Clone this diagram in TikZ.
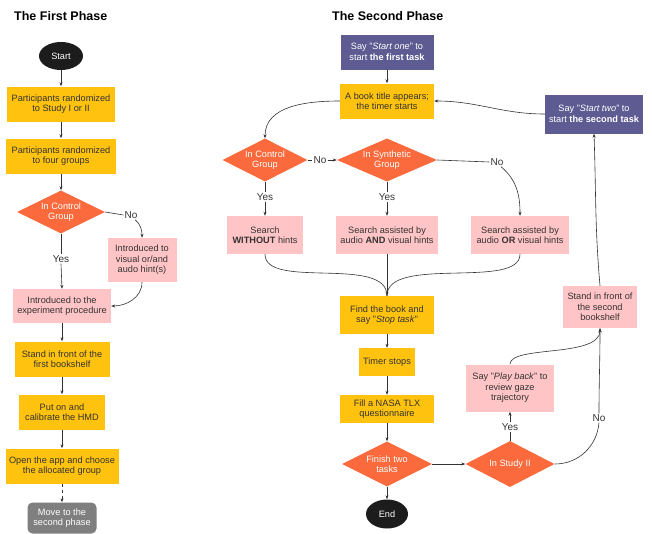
\documentclass[tikz,border=0pt]{standalone}
\usepackage{fontspec}
\setmainfont{Liberation Sans}
\usetikzlibrary{shapes.geometric,arrows.meta}
\definecolor{cyel}{HTML}{FFC20E}
\definecolor{cora}{HTML}{FA6A3C}
\definecolor{cpink}{HTML}{FFC4C6}
\definecolor{cpur}{HTML}{5E5B93}
\definecolor{cgrey}{HTML}{7F7F7F}
\definecolor{cblk}{HTML}{1C1C1C}
\definecolor{ctxt}{HTML}{333333}
\definecolor{cline}{HTML}{333333}
\begin{document}
\begin{tikzpicture}[x=1pt,y=-1pt,
  base/.style={inner sep=0pt, align=center, font=\fontsize{9.2}{10.5}\selectfont},
  ybox/.style={base, rectangle, fill=cyel, text=ctxt},
  pbox/.style={base, rectangle, fill=cpink, text=ctxt},
  ubox/.style={base, rectangle, fill=cpur, text=white},
  gbox/.style={base, rectangle, rounded corners=5pt, fill=cgrey, text=white},
  dia/.style={base, diamond, aspect=2, fill=cora, text=white},
  term/.style={base, ellipse, fill=cblk, text=white},
  lab/.style={inner sep=1pt, font=\fontsize{10}{12}\selectfont, text=ctxt},
  ttl/.style={anchor=west, inner sep=0pt, font=\fontsize{12.5}{14}\selectfont\bfseries, text=black},
  ln/.style={draw=cline, line width=0.6pt},
  arr/.style={ln, -{Stealth[length=4pt,width=3pt]}}
]
\useasboundingbox (0,0) rectangle (652,533);

% titles
\node[ttl] (t1) at (14,16) {The First Phase};
\node[ttl] (t2) at (332,16) {The Second Phase};

% ---------- first phase ----------
\node[term, minimum width=44, minimum height=28] (start) at (61,56) {Start};
\node[ybox, minimum width=108, minimum height=35] (r1) at (61,104) {Participants randomized\\to Study I or II};
\node[ybox, minimum width=110, minimum height=35] (r2) at (61,156) {Participants randomized\\to four groups};
\node[dia, minimum width=88, minimum height=43] (cg1) at (61,212) {In Control\\Group};
\node[lab] (no1) at (131,215) {No};
\node[pbox, minimum width=69, minimum height=44] (hint) at (142,260) {Introduced to\\visual or/and\\audo hint(s)};
\node[lab] (yes1) at (61,259) {Yes};
\node[pbox, minimum width=98, minimum height=34] (exp) at (62,306) {Introduced to the\\experiment procedure};
\node[ybox, minimum width=95, minimum height=35] (st1) at (62,359) {Stand in front of the\\first bookshelf};
\node[ybox, minimum width=86, minimum height=35] (hmd) at (62,412) {Put on and\\calibrate the HMD};
\node[ybox, minimum width=113, minimum height=35] (app) at (62,466) {Open the app and choose\\the allocated group};
\node[gbox, minimum width=69, minimum height=31] (move) at (62,518) {Move to the\\second phase};

\draw[arr] (start) -- (r1);
\draw[arr] (r1) -- (r2);
\draw[arr] (r2) -- (cg1);
\draw[ln] (cg1.east) -- (no1.west);
\draw[arr] ([xshift=4pt]no1.south) to[out=-40,in=90] (hint.north);
\draw[ln] (cg1.south) -- (yes1.north);
\draw[arr] (yes1.south) -- (exp.north);
\draw[arr] (hint.south) to[out=-90,in=0] (exp.east);
\draw[arr] (exp) -- (st1);
\draw[arr] (st1) -- (hmd);
\draw[arr] (hmd) -- (app);
\draw[arr, dashed] (app) -- (move);

% ---------- second phase ----------
\node[ubox, minimum width=93, minimum height=35] (s1) at (387,52) {Say "\textit{Start one}" to\\start \textbf{the first task}};
\node[ybox, minimum width=94, minimum height=35] (book) at (387,101) {A book title appears;\\the timer starts};
\node[ubox, minimum width=98, minimum height=39] (s2) at (594,114) {Say "\textit{Start two}" to\\start \textbf{the second task}};
\node[dia, minimum width=85, minimum height=43] (cg2) at (265,160) {In Control\\Group};
\node[lab] (no2) at (320,160) {No};
\node[dia, minimum width=100, minimum height=43] (syn) at (387,160) {In Synthetic\\Group};
\node[lab] (no3) at (497,162) {No};
\node[lab] (yes2) at (265,197) {Yes};
\node[lab] (yes3) at (387,197) {Yes};
\node[pbox, minimum width=76, minimum height=38] (wo) at (265,235) {Search\\\textbf{WITHOUT} hints};
\node[pbox, minimum width=102, minimum height=38] (and) at (387,235) {Search assisted by\\audio \textbf{AND} visual hints};
\node[pbox, minimum width=98, minimum height=38] (or) at (520,235) {Search assisted by\\audio \textbf{OR} visual hints};
\node[ybox, minimum width=94, minimum height=38] (find) at (387,315) {Find the book and\\say "\textit{Stop task}"};
\node[ybox, minimum width=56, minimum height=28] (timer) at (387,362) {Timer stops};
\node[ybox, minimum width=94, minimum height=28] (nasa) at (387,409) {Fill a NASA TLX\\questionnaire};
\node[dia, minimum width=90, minimum height=45] (fin) at (387,464) {Finish two\\tasks};
\node[term, minimum width=42, minimum height=29] (end) at (387,514) {End};
\node[dia, minimum width=89, minimum height=46] (st2d) at (510,464) {In Study II};
\node[lab] (yes4) at (510,427) {Yes};
\node[pbox, minimum width=88, minimum height=47] (play) at (510,388) {Say "\textit{Play back}" to\\review gaze\\trajectory};
\node[lab] (no4) at (599,418) {No};
\node[pbox, minimum width=74, minimum height=42] (st2) at (600,307) {Stand in front of\\the second\\bookshelf};

\draw[arr] (s1) -- (book);
\draw[arr] (book.west) to[out=180,in=90] (cg2.north);
\draw[ln] (cg2.east) -- (no2.west);
\draw[arr] (no2.east) -- (syn.west);
\draw[ln] (cg2.south) -- (yes2.north);
\draw[arr] (yes2.south) -- (wo.north);
\draw[ln] (syn.south) -- (yes3.north);
\draw[arr] (yes3.south) -- (and.north);
\draw[ln] (syn.east) -- (no3.west);
\draw[arr] ([xshift=4pt]no3.south) to[out=-40,in=90] (or.north);
\draw[ln] (wo.south) .. controls (265,290) and (387,255) .. (find.north);
\draw[ln] (or.south) .. controls (520,290) and (387,255) .. (find.north);
\draw[arr] (and.south) -- (find.north);
\draw[arr] (find) -- (timer);
\draw[arr] (timer) -- (nasa);
\draw[arr] (nasa) -- (fin);
\draw[arr] (fin) -- (end);
\draw[arr] (fin.east) -- (st2d.west);
\draw[ln] (st2d.north) -- (yes4.south);
\draw[arr] (yes4.north) -- (play.south);
\draw[arr] (play.north) .. controls (510,345) and (600,358) .. (st2.south);
\draw[ln] (st2d.east) to[out=0,in=-95] (no4.south);
\draw[arr] (no4.north) to[out=90,in=-90] (st2.south);
\draw[arr] (st2.north) to[out=95,in=-88] (s2.south);
\draw[arr] (s2.west) to[out=180,in=0] (book.east);
\end{tikzpicture}
\end{document}
